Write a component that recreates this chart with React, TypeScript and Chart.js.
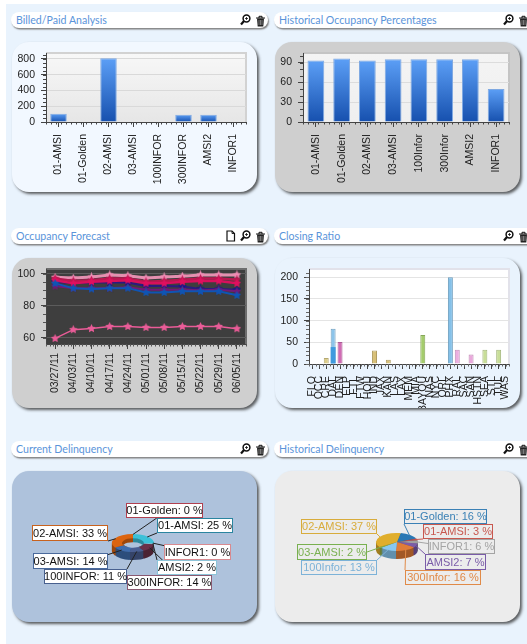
import React, { useEffect, useRef } from "react";
import { Chart, registerables } from "chart.js";

Chart.register(...registerables);

// ---------- data ----------
const billedCategories = ["01-AMSI", "01-Golden", "02-AMSI", "03-AMSI", "100INFOR", "300INFOR", "AMSI2", "INFOR1"];
const billedValues = [106, 0, 808, 0, 0, 93, 93, 0];
const billedTicks = [0, 200, 400, 600, 800];

const occupancyCategories = ["01-AMSI", "01-Golden", "02-AMSI", "03-AMSI", "100Infor", "300Infor", "AMSI2", "INFOR1"];
const occupancyValues = [93, 96, 93, 95, 95, 95, 95, 50];
const occupancyTicks = [0, 30, 60, 90];

const forecastDates = ["03/27/11", "04/03/11", "04/10/11", "04/17/11", "04/24/11", "05/01/11", "05/08/11", "05/15/11", "05/22/11", "05/29/11", "06/05/11"];
const forecastTicks = [60, 80, 100];
const forecastLow = [59.5, 65, 65.7, 67, 67, 66.4, 66.4, 67, 67, 67, 65.6];
const forecastBlue = [94, 91, 90.5, 91, 91, 88.3, 88.3, 89, 89, 89, 86.5];
const forecastPurple = [92.3, 91, 91, 91, 91.5, 90, 90, 90, 89.7, 90, 89];
const forecastNavy = [95, 94, 94.5, 94.5, 94.5, 92.3, 92.3, 92, 90.5, 90.5, 90];
const forecastCrimson = [96, 94, 95, 95.5, 96, 94, 94, 95, 95.5, 95.5, 94];
const forecastRed = [97, 95.5, 96, 97, 97, 95, 95.5, 96.3, 97, 97, 96.3];
const forecastTop = [97.8, 97.3, 98, 99.3, 98.8, 97.3, 98, 98.5, 99.3, 99.3, 99.3];

const closingCategories = ["FLO", "OCC", "CRE", "DAL", "DEN", "ELP", "FTL", "FTW", "HOU", "IND", "JAX", "KAN", "LAS", "LAX", "MEM", "MIA", "BAYOU", "NAS", "NYC", "ORL", "PHX", "RAL", "SAC", "SAN", "HSTN", "SEA", "STL", "TUL", "WAS"];
const closingValues = [0, 0, 14, 81, 51, 0, 0, 0, 0, 31, 0, 10, 0, 0, 0, 0, 67, 0, 0, 0, 200, 33, 0, 22, 0, 33, 0, 33, 0];
const closingSecond = [0, 0, 0, 39, 0, 0, 0, 0, 0, 0, 0, 0, 0, 0, 0, 0, 0, 0, 0, 0, 0, 0, 0, 0, 0, 0, 0, 0, 0];
const closingColors = ["#9ecbe8", "#d9a8d8", "#dccd8a", "#8cc4ea", "#d06cb4", "#9ecbe8", "#d9a8d8", "#dccd8a", "#a8c878", "#d8c078", "#8cc4ea", "#d8c078", "#a8c878", "#9ecbe8", "#d9a8d8", "#dccd8a", "#a4cc6c", "#d06cb4", "#9ecbe8", "#d9a8d8", "#84c0e8", "#ecaee0", "#dccd8a", "#eaa8dc", "#a8c878", "#c8de98", "#d9a8d8", "#c8de98", "#9ecbe8"];
const closingTicks = [0, 50, 100, 150, 200];

const currentLabels = ["01-Golden", "01-AMSI", "INFOR1", "AMSI2", "300INFOR", "100INFOR", "03-AMSI", "02-AMSI"];
const currentValues = [0, 25, 0, 2, 14, 11, 14, 33];
const currentColors = ["#a83848", "#3cc0d8", "#c84850", "#80c4d8", "#6a3048", "#4a5f92", "#3f6cac", "#dc6410"];
const currentLines = ["#b04050", "#2a85a0", "#d88a90", "#8cc4d8", "#8a5a72", "#48608f", "#4a6a9c", "#c8621e"];

const historicalLabels = ["01-Golden", "01-AMSI", "INFOR1", "AMSI2", "300Infor", "100Infor", "03-AMSI", "02-AMSI"];
const historicalValues = [16, 3, 6, 7, 16, 13, 2, 37];
const historicalColors = ["#2a78b4", "#c0504d", "#a0a0a0", "#7c5ca8", "#e07c38", "#88c8f0", "#78b050", "#e0ae2c"];
const historicalLines = ["#3a80b5", "#c8584f", "#a4a4a4", "#7a5ca8", "#e08a48", "#7cb2d8", "#79b050", "#d8ac3c"];

// ---------- layout (page pixels) ----------
const FONT = '"Liberation Sans", Arial, sans-serif';
const TITLE_FONT = 'Lato, "Liberation Sans", sans-serif';
const PAGE_BG = "#e9f3fd";
type Rect = { x: number; y: number; w: number; h: number };
type LabelBox = Rect & { fx: number; fy: number };
const panels: Record<string, Rect & { bg: string }> = {
  billed: { x: 12, y: 42, w: 245, h: 150, bg: "#f2f8ff" },
  occupancy: { x: 275, y: 42, w: 245, h: 150, bg: "#cfcfcf" },
  forecast: { x: 12, y: 258, w: 245, h: 150, bg: "#cfcfcf" },
  closing: { x: 275, y: 258, w: 245, h: 150, bg: "#e9f3fd" },
  current: { x: 12, y: 471, w: 245, h: 151, bg: "#aec2dc" },
  historical: { x: 275, y: 471, w: 245, h: 151, bg: "#ececec" },
};
const headers = [
  { x: 11, y: 12, w: 257, title: "Billed/Paid Analysis", doc: false },
  { x: 274, y: 12, w: 262, title: "Historical Occupancy Percentages", doc: false },
  { x: 11, y: 228, w: 257, title: "Occupancy Forecast", doc: true },
  { x: 274, y: 228, w: 262, title: "Closing Ratio", doc: false },
  { x: 11, y: 441, w: 257, title: "Current Delinquency", doc: false },
  { x: 274, y: 441, w: 262, title: "Historical Delinquency", doc: false },
];
const currentBoxes: LabelBox[] = [
  { x: 126, y: 503, w: 77, h: 15, fx: 0.4, fy: 1 },
  { x: 157, y: 518, w: 76, h: 15, fx: 0, fy: 1 },
  { x: 164, y: 544, w: 67, h: 16, fx: 0, fy: 0.1 },
  { x: 157, y: 560, w: 60, h: 15, fx: 0, fy: 0 },
  { x: 127, y: 575, w: 85, h: 15, fx: 0.6, fy: 0 },
  { x: 44, y: 569, w: 83, h: 15, fx: 1, fy: 0 },
  { x: 33, y: 553, w: 75, h: 16, fx: 1, fy: 0.1 },
  { x: 32, y: 525, w: 76, h: 16, fx: 1, fy: 1 },
];
const historicalBoxes: LabelBox[] = [
  { x: 404, y: 509, w: 83, h: 15, fx: 0, fy: 1 },
  { x: 423, y: 524, w: 70, h: 15, fx: 0, fy: 1 },
  { x: 428, y: 539, w: 67, h: 15, fx: 0, fy: 0.3 },
  { x: 425, y: 554, w: 61, h: 16, fx: 0, fy: 0 },
  { x: 405, y: 570, w: 76, h: 15, fx: 0, fy: 0 },
  { x: 301, y: 560, w: 76, h: 15, fx: 1, fy: 0 },
  { x: 297, y: 544, w: 70, h: 16, fx: 1, fy: 0.5 },
  { x: 301, y: 519, w: 76, h: 15, fx: 1, fy: 1 },
];

// ---------- helpers ----------
function plotBackground(top: string, bottom: string, edge: string) {
  return {
    id: "plotBackground",
    beforeDraw(chart: any) {
      const { ctx, chartArea: a } = chart;
      const g = ctx.createLinearGradient(0, a.top, 0, a.bottom);
      g.addColorStop(0, top);
      g.addColorStop(1, bottom);
      ctx.save();
      ctx.fillStyle = g;
      ctx.fillRect(a.left, a.top, a.right - a.left, a.bottom - a.top);
      ctx.strokeStyle = edge;
      ctx.lineWidth = 2;
      ctx.beginPath();
      ctx.moveTo(a.left, a.top);
      ctx.lineTo(a.right, a.top);
      ctx.lineTo(a.right, a.bottom);
      ctx.stroke();
      ctx.restore();
    },
  };
}

function minorTicks(yStep: number, xDiv: number, color: string) {
  return {
    id: "minorTicks",
    afterDatasetsDraw(chart: any) {
      const { ctx, chartArea: a, scales } = chart;
      ctx.save();
      ctx.strokeStyle = color;
      ctx.lineWidth = 1;
      ctx.beginPath();
      for (let v = scales.y.min; v <= scales.y.max; v += yStep) {
        const p = Math.round(scales.y.getPixelForValue(Math.ceil(v / yStep) * yStep)) + 0.5;
        if (p < a.top) continue;
        ctx.moveTo(a.left - 3, p);
        ctx.lineTo(a.left, p);
      }
      const w = (a.right - a.left) / scales.x.ticks.length;
      for (let i = 0; i <= scales.x.ticks.length * xDiv; i++) {
        const p = Math.round(a.left + (w * i) / xDiv) + 0.5;
        ctx.moveTo(p, a.bottom);
        ctx.lineTo(p, a.bottom + 2.5);
      }
      ctx.stroke();
      ctx.restore();
    },
  };
}

function gradientFill(top: string, bottom: string) {
  return (c: any) => {
    const chart = c.chart;
    const y = chart.scales?.y;
    if (!y || !chart.chartArea || c.parsed === undefined) return top;
    const g = chart.ctx.createLinearGradient(0, y.getPixelForValue(c.parsed.y), 0, y.getPixelForValue(0));
    g.addColorStop(0, top);
    g.addColorStop(1, bottom);
    return g;
  };
}

function star(color: string, size: number) {
  const cv = document.createElement("canvas");
  cv.width = size;
  cv.height = size;
  const x = cv.getContext("2d")!;
  const c = size / 2;
  x.fillStyle = color;
  x.beginPath();
  for (let i = 0; i < 10; i++) {
    const r = i % 2 === 0 ? c : c * 0.5;
    const t = -Math.PI / 2 + (i * Math.PI) / 5;
    const px = c + r * Math.cos(t);
    const py = c + r * Math.sin(t);
    if (i === 0) x.moveTo(px, py);
    else x.lineTo(px, py);
  }
  x.closePath();
  x.fill();
  return cv;
}

function cartesian(
  panel: Rect,
  plot: { left: number; top: number; right: number; bottom: number },
  yMin: number,
  yMax: number,
  yTicks: number[],
  grid: string,
  xPad: number,
) {
  const axisColor = "#444444";
  const tickFont = { family: FONT, size: 10.5 };
  return {
    layout: {
      padding: {
        left: 0,
        top: plot.top - panel.y,
        right: panel.x + panel.w - plot.right,
        bottom: 0,
      },
    },
    scales: {
      x: {
        offset: true,
        grid: { display: true, drawOnChartArea: false, drawTicks: true, tickLength: 5, tickColor: axisColor, offset: false },
        border: { color: axisColor },
        ticks: { autoSkip: false, minRotation: 90, maxRotation: 90, padding: xPad, color: "#222222", font: tickFont },
        afterFit(s: any) {
          s.height = panel.y + panel.h - plot.bottom;
          s.paddingLeft = s.paddingRight = s.paddingTop = s.paddingBottom = 0;
        },
      },
      y: {
        min: yMin,
        max: yMax,
        grid: { color: grid, tickColor: axisColor, tickLength: 5, lineWidth: 1 },
        border: { color: axisColor },
        ticks: { padding: 6, color: "#222222", font: tickFont },
        afterBuildTicks(s: any) {
          s.ticks = yTicks.map((value) => ({ value }));
        },
        afterFit(s: any) {
          s.width = plot.left - panel.x;
          s.paddingTop = s.paddingBottom = s.paddingLeft = s.paddingRight = 0;
        },
      },
    },
  };
}

function darken(hex: string, f: number) {
  const n = parseInt(hex.slice(1), 16);
  const ch = (s: number) => Math.round(((n >> s) & 255) * f);
  return `rgb(${ch(16)},${ch(8)},${ch(0)})`;
}

function pie3d(depth: number, squash: number, shade: number, wall: number) {
  return {
    id: "pie3d",
    beforeDatasetsDraw(chart: any) {
      const { ctx, width, height } = chart;
      const arcs = chart.getDatasetMeta(0).data;
      const cx = arcs[0].x;
      const cy = arcs[0].y;
      const hole = arcs[0].innerRadius;
      for (let d = depth; d >= 1; d--) {
        ctx.save();
        if (hole > 0 && d > wall) {
          // deep layers stay hidden behind the hole, so the panel shows through it
          ctx.beginPath();
          ctx.rect(0, 0, width, height);
          ctx.ellipse(cx, cy, hole, hole * squash, 0, 0, Math.PI * 2);
          ctx.clip("evenodd");
        }
        ctx.translate(cx, cy + d);
        ctx.scale(1, squash);
        ctx.translate(-cx, -cy);
        arcs.forEach((arc: any) => {
          const original = arc.options;
          const o = Object.create(original);
          o.backgroundColor = darken(original.backgroundColor, shade);
          o.borderWidth = 0;
          arc.options = o;
          arc.draw(ctx);
          arc.options = original;
        });
        ctx.restore();
      }
      ctx.save();
      ctx.translate(cx, cy);
      ctx.scale(1, squash);
      ctx.translate(-cx, -cy);
    },
    afterDatasetsDraw(chart: any) {
      chart.ctx.restore();
    },
  };
}

function pieLabels(
  panel: Rect,
  names: string[],
  values: number[],
  lineColors: string[],
  boxes: LabelBox[],
  filled: boolean,
  squash: number,
) {
  return {
    id: "pieLabels",
    afterDraw(chart: any) {
      const { ctx } = chart;
      const arcs = chart.getDatasetMeta(0).data;
      ctx.save();
      ctx.font = `11px ${FONT}`;
      ctx.textBaseline = "middle";
      ctx.textAlign = "center";
      arcs.forEach((arc: any, i: number) => {
        const b = boxes[i];
        const bx = b.x - panel.x;
        const by = b.y - panel.y;
        const mid = (arc.startAngle + arc.endAngle) / 2;
        const r = arc.outerRadius * 0.95;
        const ax = arc.x + r * Math.cos(mid);
        const ay = arc.y + r * squash * Math.sin(mid);
        ctx.strokeStyle = filled ? "#222222" : lineColors[i];
        ctx.lineWidth = 1;
        ctx.beginPath();
        ctx.moveTo(ax, ay);
        ctx.lineTo(bx + b.w * b.fx, by + b.h * b.fy);
        ctx.stroke();
      });
      arcs.forEach((_: any, i: number) => {
        const b = boxes[i];
        const bx = b.x - panel.x;
        const by = b.y - panel.y;
        if (filled) {
          ctx.fillStyle = "#ffffff";
          ctx.fillRect(bx, by, b.w, b.h);
        }
        ctx.strokeStyle = lineColors[i];
        ctx.lineWidth = 1;
        ctx.strokeRect(bx + 0.5, by + 0.5, b.w - 1, b.h - 1);
        ctx.fillStyle = filled ? "#111111" : lineColors[i];
        ctx.fillText(`${names[i]}: ${values[i]} %`, bx + b.w / 2, by + b.h / 2 + 0.5);
      });
      ctx.restore();
    },
  };
}

function doughnutConfig(panel: Rect, cx: number, cy: number, radius: number, names: string[], values: number[], colors: string[], lines: string[], boxes: LabelBox[], filled: boolean, cutout: string, rotation: number, shade: number) {
  const squash = 0.43;
  return {
    type: "doughnut",
    data: {
      labels: names,
      datasets: [{ data: values, backgroundColor: colors, borderWidth: 0, clip: false }],
    },
    options: {
      responsive: false,
      animation: false,
      devicePixelRatio: 1,
      cutout,
      rotation,
      layout: {
        padding: {
          left: cx - radius - panel.x,
          right: panel.x + panel.w - cx - radius,
          top: cy - radius - panel.y,
          bottom: panel.y + panel.h - cy - radius,
        },
      },
      plugins: { legend: { display: false }, tooltip: { enabled: false } },
    },
    plugins: [pie3d(8, squash, shade, 4), pieLabels(panel, names, values, lines, boxes, filled, squash)],
  };
}

function buildConfigs(): Record<string, any> {
  const base = { responsive: false, animation: false, devicePixelRatio: 1 };
  const noPlugins = { legend: { display: false }, tooltip: { enabled: false } };
  const barBorder = "#7fa9e2";

  const lineSeries = [
    { data: forecastLow, color: "#ea5c98", line: "#ea5c98", w: 1.5 },
    { data: forecastBlue, color: "#0f55b4", line: "#0f55b4", w: 2 },
    { data: forecastPurple, color: "#701a78", line: "#701a78", w: 2 },
    { data: forecastCrimson, color: "#e0105f", line: "#d8105c", w: 2.5 },
    { data: forecastRed, color: "#b81850", line: "#b81850", w: 2.5 },
    { data: forecastNavy, color: "#10188c", line: "#2a1a80", w: 2 },
    { data: forecastTop, color: "#f08cb4", line: "#e490b0", w: 3 },
  ];

  return {
    billed: {
      type: "bar",
      data: {
        labels: billedCategories,
        datasets: [{ data: billedValues, backgroundColor: gradientFill("#5c9ff6", "#1650ae"), borderColor: barBorder, borderWidth: 1, barPercentage: 0.66, categoryPercentage: 1 }],
      },
      options: {
        ...base,
        ...cartesian(panels.billed, { left: 46, top: 53, right: 246, bottom: 122 }, 0, 876, billedTicks, "#d9d9d9", 7),
        plugins: noPlugins,
      },
      plugins: [plotBackground("#f8f8f8", "#e6e6e6", "#d2d2d2"), minorTicks(50, 5, "#444444")],
    },
    occupancy: {
      type: "bar",
      data: {
        labels: occupancyCategories,
        datasets: [{ data: occupancyValues, backgroundColor: gradientFill("#5c9ff6", "#1650ae"), borderColor: barBorder, borderWidth: 1, barPercentage: 0.65, categoryPercentage: 1 }],
      },
      options: {
        ...base,
        ...cartesian(panels.occupancy, { left: 303, top: 53, right: 509, bottom: 122 }, 0, 104.5, occupancyTicks, "#dcdcdc", 7),
        plugins: noPlugins,
      },
      plugins: [plotBackground("#f4f4f4", "#efefef", "#c4c4c4"), minorTicks(10, 5, "#444444")],
    },
    forecast: {
      type: "line",
      data: {
        labels: forecastDates,
        datasets: lineSeries.map((s) => ({
          data: s.data,
          borderColor: s.line,
          borderWidth: s.w,
          pointStyle: star(s.color, 9),
          pointRadius: 4.5,
          tension: 0,
        })),
      },
      options: {
        ...base,
        ...cartesian(panels.forecast, { left: 46, top: 269, right: 246, bottom: 344 }, 56, 103, forecastTicks, "#5c5c5c", 4),
        plugins: noPlugins,
      },
      plugins: [plotBackground("#3e3e3e", "#3e3e3e", "#6e6e6e"), minorTicks(5, 5, "#555555")],
    },
    closing: {
      type: "bar",
      data: {
        labels: closingCategories,
        datasets: [
          { data: closingSecond, backgroundColor: "#3f9ade", borderWidth: 0, stack: "a", barPercentage: 0.72, categoryPercentage: 1, order: 0 },
          {
            data: closingValues,
            backgroundColor: closingColors,
            borderColor: (c: any) => darken(closingColors[c.dataIndex], 0.82),
            borderWidth: { left: 1, right: 1, top: 1, bottom: 0 },
            stack: "b",
            barPercentage: 0.72,
            categoryPercentage: 1,
            grouped: false,
            order: 1,
          },
        ],
      },
      options: {
        ...base,
        ...cartesian(panels.closing, { left: 309, top: 269, right: 509, bottom: 364 }, 0, 219, closingTicks, "#e4e4e4", 7),
        plugins: noPlugins,
      },
      plugins: [plotBackground("#ffffff", "#ffffff", "#e2e2ea"), minorTicks(10, 2, "#666666")],
    },
    current: doughnutConfig(panels.current, 133, 543, 21, currentLabels, currentValues, currentColors, currentLines, currentBoxes, true, "52%", 0, 0.72),
    historical: doughnutConfig(panels.historical, 397, 542, 21, historicalLabels, historicalValues, historicalColors, historicalLines, historicalBoxes, false, "0%", 10, 0.72),
  };
}

function Icon({ kind, x, y }: { kind: "zoom" | "trash" | "doc"; x: number; y: number }) {
  const style: React.CSSProperties = { position: "absolute", left: x, top: y, width: 11, height: 12 };
  if (kind === "zoom") {
    return (
      <svg style={style} viewBox="0 0 11 12">
        <circle cx="6.5" cy="4.5" r="3.4" fill="#fff" stroke="#111" strokeWidth="1.5" />
        <path d="M4 7 L1 10.5" stroke="#111" strokeWidth="2.2" />
        <path d="M5 4.5 H8 M6.5 3 V6" stroke="#111" strokeWidth="0.8" />
      </svg>
    );
  }
  if (kind === "trash") {
    return (
      <svg style={style} viewBox="0 0 11 12">
        <path d="M1 3 H10 M4 3 V1.3 H7 V3" stroke="#111" strokeWidth="1" fill="none" />
        <path d="M2 3.6 H9 L8.3 11.5 H2.7 Z" fill="#222" />
        <path d="M4 5 V10 M5.5 5 V10 M7 5 V10" stroke="#bbb" strokeWidth="0.6" />
      </svg>
    );
  }
  return (
    <svg style={style} viewBox="0 0 11 12">
      <path d="M2 1 H7 L9.5 3.5 V11 H2 Z" fill="#fff" stroke="#111" strokeWidth="1.2" />
      <path d="M7 1 V3.5 H9.5" fill="none" stroke="#111" strokeWidth="0.9" />
    </svg>
  );
}

export default function App() {
  const refs = useRef<Record<string, HTMLCanvasElement | null>>({});

  useEffect(() => {
    document.body.style.margin = "0";
    document.body.style.background = "#ffffff";
    const configs = buildConfigs();
    const charts = Object.keys(configs).map((k) => new Chart(refs.current[k] as HTMLCanvasElement, configs[k]));
    return () => charts.forEach((c) => c.destroy());
  }, []);

  return (
    <div style={{ position: "fixed", left: 0, top: 0, width: 527, height: 644, overflow: "hidden", background: "#ffffff" }}>
      <div style={{ position: "absolute", left: 6, top: 4, right: 0, bottom: 0, background: PAGE_BG }} />
      {headers.map((h) => (
        <div key={h.title}>
          <div
            style={{
              position: "absolute",
              left: h.x,
              top: h.y,
              width: h.w,
              height: 16,
              borderRadius: 8,
              background: "#ffffff",
              boxShadow: "1px 1.5px 1.5px #808080",
            }}
          />
          <div
            style={{
              position: "absolute",
              left: h.x + 5,
              top: h.y,
              height: 16,
              color: "#5a94da",
              font: `10.6px/16px ${TITLE_FONT}`,
              whiteSpace: "nowrap",
            }}
          >
            {h.title}
          </div>
          {h.doc ? <Icon kind="doc" x={h.x + 214} y={h.y + 2} /> : null}
          <Icon kind="zoom" x={h.x + 229} y={h.y + 2} />
          <Icon kind="trash" x={h.x + 244} y={h.y + 3} />
        </div>
      ))}
      {Object.keys(panels).map((k) => {
        const p = panels[k];
        return (
          <div
            key={k}
            style={{
              position: "absolute",
              left: p.x,
              top: p.y,
              width: p.w,
              height: p.h,
              borderRadius: 17,
              background: p.bg,
              boxShadow: "2px 2px 3px rgba(40,40,40,0.75)",
            }}
          >
            <canvas
              ref={(el) => {
                refs.current[k] = el;
              }}
              width={p.w}
              height={p.h}
              style={{ position: "absolute", left: 0, top: 0, width: p.w, height: p.h }}
            />
          </div>
        );
      })}
    </div>
  );
}
